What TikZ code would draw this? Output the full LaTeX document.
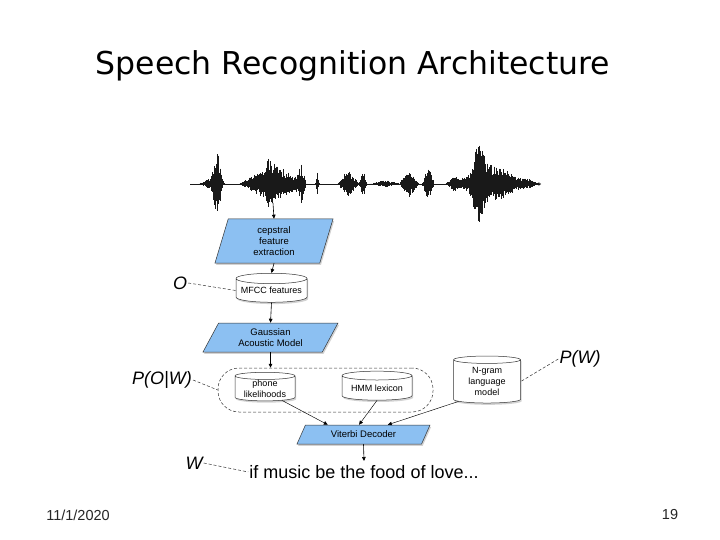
\documentclass[tikz,border=0pt]{standalone}
\usepackage{fontspec}
\setmainfont{Liberation Sans}
\newfontfamily\titlefamily{DejaVu Sans}
\usetikzlibrary{shapes.geometric,arrows.meta,shadows,calc}
\definecolor{boxblue}{RGB}{140,192,242}
\definecolor{wave}{RGB}{25,25,25}
\tikzset{
  para/.style={trapezium, trapezium stretches body, draw=black!80, line width=0.5pt, fill=boxblue,
    inner sep=0pt, align=center, font=\fontsize{9.5}{11}\selectfont,
    drop shadow={shadow xshift=1.2pt, shadow yshift=-1.8pt, opacity=.35}},
  db/.style={cylinder, shape border rotate=90, draw=black!80, line width=0.5pt, fill=white,
    inner sep=0pt, align=center, font=\fontsize{9}{11}\selectfont, aspect=0.17,
    drop shadow={shadow xshift=1.2pt, shadow yshift=-1.8pt, opacity=.35}},
  lbl/.style={font=\fontsize{18}{20}\selectfont\itshape, inner sep=1pt},
  dsh/.style={draw=black!80, line width=0.5pt, dash pattern=on 3pt off 2pt},
  arr/.style={draw=black, line width=0.6pt, -{Triangle[length=4pt,width=3.6pt]}},
  foot/.style={font=\fontsize{14.5}{16}\selectfont, text=black!85},
  declare function={tb(\x,\c,\w)=max(0,1-abs(\x-\c)/\w);
    env(\x)=32*tb(\x,217,6)+7*tb(\x,212,14)+21*tb(\x,273,34)+9*tb(\x,268,4)+17*tb(\x,301,5)
      +12*tb(\x,317,2)+15*tb(\x,348,11)+15*tb(\x,363,4)+4*tb(\x,385,16)+15*tb(\x,409,10)
      +20*tb(\x,428,6)+9*tb(\x,455,10)+24*tb(\x,484,26)+24*tb(\x,478,9)+12*tb(\x,508,20)+5*tb(\x,528,12);}
}
\begin{document}
\begin{tikzpicture}[x=1pt,y=-1pt]
\useasboundingbox[fill=white] (0,0) rectangle (720,540);

% title
\node[font=\titlefamily\fontsize{31.5}{34}\selectfont] (title) at (353,66) {Speech Recognition Architecture};

% waveform
\pgfmathsetseed{11}
\foreach \i in {0,...,580}{
  \pgfmathsetmacro\xx{191+0.6*\i}
  \pgfmathsetmacro\aa{env(\xx)}
  \pgfmathsetmacro\up{184-\aa*(0.45+0.55*rnd)}
  \pgfmathsetmacro\dn{184+\aa*(0.4+0.55*rnd)}
  \draw[wave, line width=0.45pt] (\xx,\up) -- (\xx,\dn);
}
\coordinate (axL) at (190,184);
\coordinate (axR) at (541,184);
\draw[wave, line width=0.6pt, -{Straight Barb[length=2pt,width=3pt]}] (axL) -- (axR);
\coordinate (wav) at (273,203);

% boxes
\node[para, trapezium left angle=65.5, trapezium right angle=114.5, minimum width=118pt, minimum height=44pt] (p1) at (274,241) {cepstral\\feature\\extraction};
\node[db, minimum width=71pt, minimum height=29pt] (mfcc) at (271.5,290.5) {MFCC features};
\node[para, trapezium left angle=49, trapezium right angle=131, minimum width=135pt, minimum height=29pt] (p2) at (270.5,337.5) {Gaussian\\Acoustic Model};

\node[draw=black!80, line width=0.5pt, dash pattern=on 3pt off 2pt, rounded corners=21pt, minimum width=215pt, minimum height=44pt] (grp) at (325.5,390) {};
\node[db, minimum width=60pt, minimum height=28pt] (phone) at (265,388.5) {phone\\likelihoods};
\node[db, minimum width=70pt, minimum height=29pt] (hmm) at (377,388) {HMM lexicon};
\node[db, minimum width=67pt, minimum height=47pt, aspect=0.2] (ngram) at (487,381.5) {N-gram\\language\\model};

\node[para, trapezium left angle=39.6, trapezium right angle=140.4, minimum width=133pt, minimum height=19pt] (vit) at (363.5,434.5) {Viterbi Decoder};

\node[font=\fontsize{18}{20}\selectfont, inner sep=1pt] (out) at (364,472) {if music be the food of love...};
\coordinate (outtop) at (364,461);

% labels
\node[lbl] (O) at (180,283) {O};
\node[lbl] (POW) at (162,380) {P(O|W)};
\node[lbl] (PW) at (580,359) {P(W)};
\node[lbl] (W) at (194,463) {W};

\node[foot] (date) at (78,515) {11/1/2020};
\node[foot] (page) at (670,515) {19};

% dashed connectors
\draw[dsh] (O.east) -- (mfcc.west);
\draw[dsh] (POW.east) -- (grp.west);
\draw[dsh] (PW.west) -- (ngram.east);
\draw[dsh] (W.east) -- (out.west);

% arrows
\draw[arr] (wav) -- (p1.north);
\draw[arr] (p1.south) -- (mfcc.north);
\draw[arr] (mfcc.south) -- (p2.north);
\draw[arr] (p2.south) -- (p2.south |- grp.north);
\coordinate (v1) at ($(vit.top left corner)!0.18!(vit.top right corner)$);
\coordinate (v2) at ($(vit.top left corner)!0.43!(vit.top right corner)$);
\coordinate (v3) at ($(vit.top left corner)!0.66!(vit.top right corner)$);
\draw[arr, line width=0.45pt] (phone.-35) -- (v1);
\draw[arr, line width=0.45pt] (hmm.south) -- (v2);
\draw[arr, line width=0.45pt] (ngram.-145) -- (v3);
\draw[arr] (vit.south) -- (outtop);
\end{tikzpicture}
\end{document}
